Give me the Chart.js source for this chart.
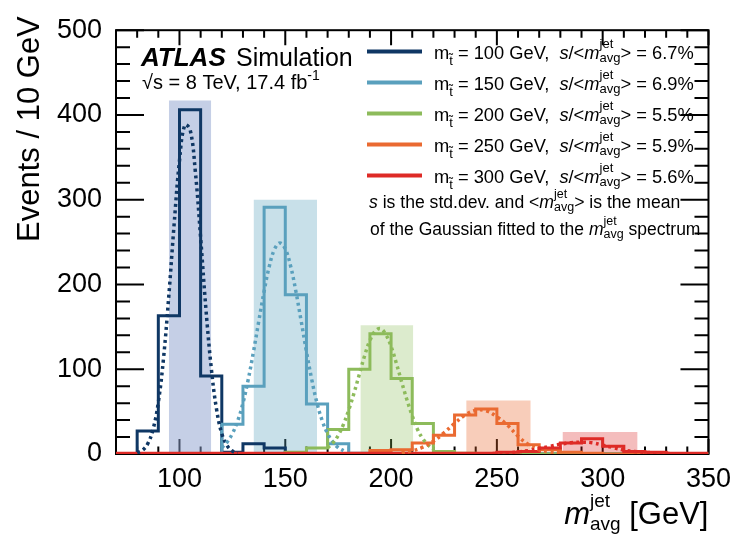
<!DOCTYPE html>
<html>
<head>
<meta charset="utf-8">
<script src="https://cdn.jsdelivr.net/npm/chart.js@4.4.1/dist/chart.umd.min.js"></script>
<style>
html,body{margin:0;padding:0;background:#fff;}
#wrap{width:740px;height:534px;}
</style>
</head>
<body>
<div id="wrap"><canvas id="chart"></canvas></div>
<script>
// bin edges, 10 GeV bins from 70 to 350
const binEdges = [70,80,90,100,110,120,130,140,150,160,170,180,190,200,210,220,230,240,250,260,270,280,290,300,310,320,330,340,350];
const xTickLabels = [100,150,200,250,300,350];
const yTickLabels = [0,100,200,300,400,500];

// events per bin
const h100 = [0,27,163,406,92,2,12,7,1,0,0,0,0,0,0,0,0,0,0,0,0,0,0,0,0,0,0,0];
const h150 = [0,0,0,0,0,35,80,291,188,59,12,1,0,0,0,0,0,0,0,0,0,0,0,0,0,0,0,0];
const h200 = [0,0,0,0,0,0,0,0,2,7,29,100,142,89,36,3,1,0,0,0,0,0,0,0,0,0,0,0];
const h250 = [0,0,0,0,0,0,0,0,0,0,0,0,4,5,13,22,46,53,36,11,5,2,1,0,0,0,0,0];
const h300 = [1,1,1,1,1,1,1,1,1,1,1,1,1,1,1,1,1,1,2,3,7,13,18,9,3,2,1,1];

// gaussian fits (dotted)
const fit100x = [80,82.5,85,87.5,90,92.5,95,97.5,100,102.5,105,107.5,110,112.5,115,117.5,120,122.5,125,127.5];
const fit100y = [1.4,4.4,12,29,61,114,188,272,346,388,383,333,255,171,102,53,24,10,3.5,1.1];
const fit150x = [120,122.5,125,127.5,130,132.5,135,137.5,140,142.5,145,147.5,150,152.5,155,157.5,160,162.5,165,167.5,170,172.5,175,177.5];
const fit150y = [7.5,14,24,39,60,88,121,157,192,222,242,249,242,222,192,157,121,88,60,39,24,14,7.5,3.9];
const fit200x = [170,172.5,175,177.5,180,182.5,185,187.5,190,192.5,195,197.5,200,202.5,205,207.5,210,212.5,215,217.5,220];
const fit200y = [7.4,13,22,35,52,72,94,116,134,145,148,141,127,107,85,64,45,29,18,10.5,5.7];
const fit250x = [205,210,215,220,225,230,235,240,245,250,255,260,265,270,275,280];
const fit250y = [1.6,3.8,8,15,25,36,46,51.5,51,44,34,21,11,5,2.5,1.3];
const fit300x = [245,250,255,260,265,270,275,280,285,290,295,300,305,310,315,320,325,330,335];
const fit300y = [0.3,0.6,1.3,2.4,4.1,6.4,9,11.5,13.3,14,13.3,10.5,7.5,4.5,3,2,1.3,0.6,0.3];

// shaded windows
const bandLo = [95,135,185.5,235.5,281];
const bandHi = [115,165,210.5,266,316.5];
const bandTop = [417,300,152,63,26];

const masses = [100,150,200,250,300];
const resolutions = ['6.7','6.9','5.5','5.9','5.6'];
const colors = ['#0f3764','#5aa0bd','#8dbb5b','#ea6a31','#de2a26'];
const bandColors = ['rgba(140,160,205,0.5)','rgba(88,160,189,0.33)','rgba(140,189,90,0.3)','rgba(233,102,45,0.33)','rgba(220,36,35,0.3)'];
const hists = [h100,h150,h200,h250,h300];
const fitsX = [fit100x,fit150x,fit200x,fit250x,fit300x];
const fitsY = [fit100y,fit150y,fit200y,fit250y,fit300y];

const FF = '"Liberation Sans", Arial, sans-serif';
const f = (size, style) => (style ? style + ' ' : '') + size + 'px ' + FF;

const datasets = [];
for (let i = 0; i < masses.length; i++) {
  datasets.push({
    data: [{x: bandLo[i], y: bandTop[i]}, {x: bandHi[i], y: bandTop[i]}],
    backgroundColor: bandColors[i], borderWidth: 0, fill: 'origin',
    pointRadius: 0, order: 100
  });
  const pts = hists[i].map((v, k) => ({x: binEdges[k], y: v}));
  pts.push({x: binEdges[binEdges.length - 1], y: hists[i][hists[i].length - 1]});
  datasets.push({
    data: pts, borderColor: colors[i], borderWidth: 3, stepped: 'before',
    fill: false, pointRadius: 0, order: 60 - i
  });
  datasets.push({
    data: fitsX[i].map((x, k) => ({x: x, y: fitsY[i][k]})),
    borderColor: colors[i], borderWidth: 3.5, borderDash: [3, 3.5], tension: 0.4,
    fill: false, pointRadius: 0, order: 30 - i
  });
}

// rich text: runs of text with their own font and offset, sup/sub stacks
function richText(ctx, x, y, parts, draw) {
  for (const p of parts) {
    ctx.font = p.f;
    if (p.sup !== undefined) {
      const w = Math.max(ctx.measureText(p.sup).width, ctx.measureText(p.sub).width);
      if (draw) { ctx.fillText(p.sup, x, y + p.supDy); ctx.fillText(p.sub, x, y + p.subDy); }
      x += w;
    } else {
      if (draw) ctx.fillText(p.t, x, y + (p.dy || 0));
      x += ctx.measureText(p.t).width;
    }
  }
  return x;
}

const framePlugin = {
  id: 'frame',
  beforeDatasetsDraw(chart) {
    const {ctx, chartArea: a, scales: {x, y}} = chart;
    ctx.save();
    ctx.strokeStyle = '#000';
    ctx.lineWidth = 2;
    ctx.strokeRect(a.left, a.top, a.right - a.left, a.bottom - a.top);
    ctx.beginPath();
    for (let v = x.min; v <= x.max; v += 10) {
      const px = x.getPixelForValue(v);
      const len = v % 50 === 0 ? 15 : 7.5;
      ctx.moveTo(px, a.bottom); ctx.lineTo(px, a.bottom - len);
      ctx.moveTo(px, a.top); ctx.lineTo(px, a.top + len);
    }
    for (let v = y.min; v <= y.max; v += 20) {
      const py = y.getPixelForValue(v);
      const len = v % 100 === 0 ? 28 : 14;
      ctx.moveTo(a.left, py); ctx.lineTo(a.left + len, py);
      ctx.moveTo(a.right, py); ctx.lineTo(a.right - len, py);
    }
    ctx.stroke();
    ctx.restore();
  },
  afterDraw(chart) {
    const {ctx, chartArea: a} = chart;
    ctx.save();
    ctx.fillStyle = '#000';
    ctx.textBaseline = 'alphabetic';

    // ATLAS label
    ctx.font = f(26, 'italic bold');
    ctx.fillText('ATLAS', 141, 66);
    ctx.font = f(25);
    ctx.fillText('Simulation', 236, 66);
    richText(ctx, 142, 89, [
      {t: '\u221As = 8 TeV, 17.4 fb', f: f(20)},
      {t: '-1', f: f(14), dy: -9}
    ], true);

    // legend
    for (let i = 0; i < masses.length; i++) {
      const by = 58.5 + i * 31;
      ctx.strokeStyle = colors[i];
      ctx.lineWidth = 4;
      ctx.beginPath();
      ctx.moveTo(367, by - 7); ctx.lineTo(422, by - 7);
      ctx.stroke();
      richText(ctx, 434, by, [
        {t: 'm', f: f(18.3)},
        {t: 't\u0303', f: f(13), dy: 6},
        {t: ' = ' + masses[i] + ' GeV,  ', f: f(18.3)},
        {t: 's', f: f(18.3, 'italic')},
        {t: '/<', f: f(18.3)},
        {t: 'm', f: f(18.3, 'italic')},
        {sup: 'jet', sub: 'avg', f: f(13), supDy: -11, subDy: 3},
        {t: '> = ' + resolutions[i] + '%', f: f(18.3)}
      ], true);
    }
    richText(ctx, 369, 208, [
      {t: 's', f: f(17.6, 'italic')},
      {t: ' is the std.dev. and <', f: f(17.6)},
      {t: 'm', f: f(17.6, 'italic')},
      {sup: 'jet', sub: 'avg', f: f(12.5), supDy: -10, subDy: 3},
      {t: '> is the mean', f: f(17.6)}
    ], true);
    richText(ctx, 370, 235, [
      {t: 'of the Gaussian fitted to the ', f: f(17.5)},
      {t: 'm', f: f(17.5, 'italic')},
      {sup: 'jet', sub: 'avg', f: f(12.5), supDy: -10, subDy: 3},
      {t: ' spectrum', f: f(17.5)}
    ], true);

    // axis titles
    const xt = [
      {t: 'm', f: f(31, 'italic')},
      {sup: 'jet', sub: 'avg', f: f(19), supDy: -17, subDy: 6},
      {t: ' [GeV]', f: f(31)}
    ];
    const wx = richText(ctx, 0, 0, xt, false);
    richText(ctx, a.right - wx, 524, xt, true);

    ctx.translate(39, a.top - 14);
    ctx.rotate(-Math.PI / 2);
    ctx.font = f(31);
    ctx.textAlign = 'right';
    ctx.fillText('Events / 10 GeV', 0, 0);
    ctx.restore();
  }
};

new Chart(document.getElementById('chart'), {
  type: 'line',
  data: {datasets: datasets},
  options: {
    responsive: true,
    maintainAspectRatio: false,
    animation: false,
    layout: {padding: {left: 0, right: 29, top: 28, bottom: 0}},
    plugins: {legend: {display: false}, tooltip: {enabled: false}},
    scales: {
      x: {
        type: 'linear', min: 70, max: 350,
        grid: {display: false, drawTicks: false}, border: {display: false},
        afterBuildTicks: s => { s.ticks = xTickLabels.map(v => ({value: v})); },
        afterFit: s => { s.height = 80; },
        ticks: {font: {family: FF, size: 27}, color: '#000', padding: 9, maxRotation: 0, autoSkip: false}
      },
      y: {
        type: 'linear', min: 0, max: 500,
        grid: {display: false, drawTicks: false}, border: {display: false},
        afterBuildTicks: s => { s.ticks = yTickLabels.map(v => ({value: v})); },
        afterFit: s => { s.width = 116; },
        ticks: {font: {family: FF, size: 27}, color: '#000', padding: 14, autoSkip: false}
      }
    }
  },
  plugins: [framePlugin]
});
</script>
</body>
</html>
